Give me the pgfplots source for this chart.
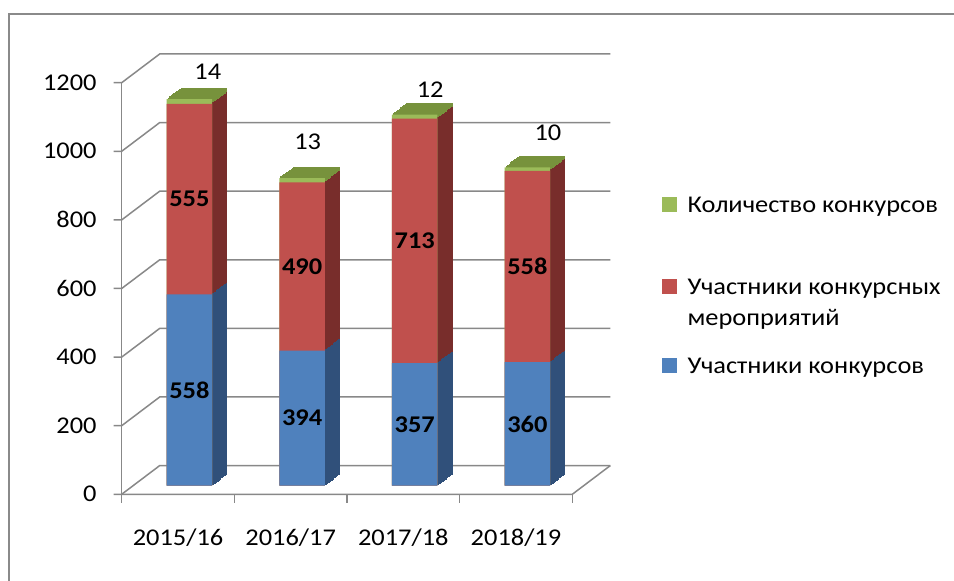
\documentclass[border=0pt]{standalone}
\usepackage{pgfplots}
\pgfplotsset{compat=1.18}
\usepackage{pgfplotstable}
\usepackage{fontspec}
\setmainfont{Carlito}[FakeStretch=1.1]
\definecolor{cblue}{HTML}{4F81BD}
\definecolor{cred}{HTML}{C0504D}
\definecolor{cgreen}{HTML}{9BBB59}
\definecolor{dblue}{HTML}{30507A}
\definecolor{dred}{HTML}{782D2B}
\definecolor{dgreen}{HTML}{77923C}
\definecolor{gridc}{HTML}{888888}
\definecolor{framec}{HTML}{8A8A8A}

\pgfplotstableread{
x b r g gx gy
0 558 555 14 0.163 1207
1 394 490 13 1.050 1004
2 357 713 12 2.137 1154
3 360 558 10 3.183 1030
}\datatable

\pgfplotsset{
  mybar/.style={ybar, bar width=22.75pt, bar shift=0pt, draw=none},
  slice/.style={ybar, bar width=22.75pt, bar shift=0pt, draw=#1, fill=#1, line width=0.5pt, forget plot},
  legaxis/.style={hide axis, scale only axis, width=1pt, height=1pt, anchor=south west,
    xmin=0, xmax=1, ymin=0, ymax=1, legend cell align=left,
    legend style={at={(0,0)}, anchor=west, draw=none, fill=none, inner sep=0pt, outer sep=0pt,
      /tikz/column sep=5.35pt, nodes={inner sep=0pt, outer sep=0pt}}},
}

\begin{document}
\fontsize{12}{14.5}\selectfont
\begin{tikzpicture}
\useasboundingbox (0,0) rectangle (477pt,290.5pt);
\draw[color=framec, line width=1pt] (4.5pt,-5pt) -- (4.5pt,283.5pt) -- (485pt,283.5pt);
\begin{axis}[
  at={(66.55pt,47.65pt)}, anchor=south west, scale only axis,
  width=225.3pt, height=205.8pt,
  xmin=-0.5, xmax=3.5, ymin=0, ymax=1200, clip=false,
  axis line style={draw=none}, major tick length=0pt, tick style={draw=none},
  ytick={0,200,...,1200}, xtick={0,1,2,3},
  xticklabels={2015/16,2016/17,2017/18,2018/19},
  yticklabel style={anchor=east, inner sep=0pt, xshift=-18.05pt, yshift=-4.3pt},
  xticklabel style={anchor=base, inner sep=0pt, xshift=-5.7pt, yshift=-30pt},
  /pgf/number format/assume math mode=true, /pgf/number format/1000 sep={},
]
% back wall grid and floor
\pgfplotsinvokeforeach{0,200,...,1200}{
  \draw[gridc, line width=0.75pt] ([shift={(-9.7pt,-4.3pt)}]axis cs:-0.5,#1) -- ([shift={(-5.7pt,-4.3pt)}]axis cs:-0.5,#1) -- ([shift={(13.3pt,10.05pt)}]axis cs:-0.5,#1) -- ([shift={(13.3pt,10.05pt)}]axis cs:3.5,#1);
}
\draw[gridc, line width=0.75pt] ([shift={(-5.7pt,-4.3pt)}]axis cs:-0.5,0) -- ([shift={(-5.7pt,-4.3pt)}]axis cs:-0.5,1200);
\draw[gridc, line width=0.75pt] ([shift={(-5.7pt,-4.3pt)}]axis cs:-0.5,0) -- ([shift={(-5.7pt,-4.3pt)}]axis cs:3.5,0) -- ([shift={(13.3pt,10.05pt)}]axis cs:3.5,0);
\pgfplotsinvokeforeach{-0.5,0.5,1.5,2.5,3.5}{
  \draw[gridc, line width=0.75pt] ([shift={(-5.7pt,-4.3pt)}]axis cs:#1,0) -- ([shift={(-5.7pt,-8.5pt)}]axis cs:#1,0);
}
% depth slices (side and top faces)
\pgfplotsinvokeforeach{10,9,...,1}{
  \addplot[slice=dgreen, xshift=#1*0.73pt, yshift=#1*0.55pt]
    table[x=x, y expr=\thisrow{b}+\thisrow{r}+\thisrow{g}]{\datatable};
  \addplot[slice=dred, xshift=#1*0.73pt, yshift=#1*0.55pt]
    table[x=x, y expr=\thisrow{b}+\thisrow{r}]{\datatable};
  \addplot[slice=dblue, xshift=#1*0.73pt, yshift=#1*0.55pt]
    table[x=x, y=b]{\datatable};
}
% front faces
\addplot[mybar, fill=cgreen] table[x=x, y expr=\thisrow{b}+\thisrow{r}+\thisrow{g}]{\datatable};
\addplot[mybar, fill=cred] table[x=x, y expr=\thisrow{b}+\thisrow{r}]{\datatable};
\addplot[mybar, fill=cblue] table[x=x, y=b]{\datatable};
% value labels
\addplot[draw=none, mark=none, point meta=explicit symbolic, nodes near coords,
  every node near coord/.append style={anchor=center, font=\bfseries, inner sep=0pt}]
  table[x=x, y expr=\thisrow{b}/2, meta=b]{\datatable};
\addplot[draw=none, mark=none, point meta=explicit symbolic, nodes near coords,
  every node near coord/.append style={anchor=center, font=\bfseries, inner sep=0pt}]
  table[x=x, y expr=\thisrow{b}+\thisrow{r}/2, meta=r]{\datatable};
\addplot[draw=none, mark=none, point meta=explicit symbolic, nodes near coords,
  every node near coord/.append style={anchor=center, inner sep=0pt}]
  table[x=gx, y=gy, meta=g]{\datatable};
\end{axis}
% legend
\begin{axis}[legaxis, at={(330.85pt,187.1pt)},
  legend style={nodes={text height=8pt, text depth=2.5pt}}]
\addlegendimage{legend image code/.code={\fill[cgreen] (0pt,-2.3pt) rectangle (7.2pt,4.9pt);}}
\addlegendentry{Количество конкурсов}
\end{axis}
\begin{axis}[legaxis, at={(330.85pt,147.65pt)}]
\addlegendimage{legend image code/.code={\fill[cred] (0pt,-3.95pt) rectangle (7.2pt,3.25pt);}}
\addlegendentry{\begin{tabular}[t]{@{}l@{}}Участники конкурсных\\[1pt]мероприятий\end{tabular}}
\end{axis}
\begin{axis}[legaxis, at={(330.85pt,106.6pt)},
  legend style={nodes={text height=8pt, text depth=2.5pt}}]
\addlegendimage{legend image code/.code={\fill[cblue] (0pt,-2.3pt) rectangle (7.2pt,4.9pt);}}
\addlegendentry{Участники конкурсов}
\end{axis}
\end{tikzpicture}
\end{document}
